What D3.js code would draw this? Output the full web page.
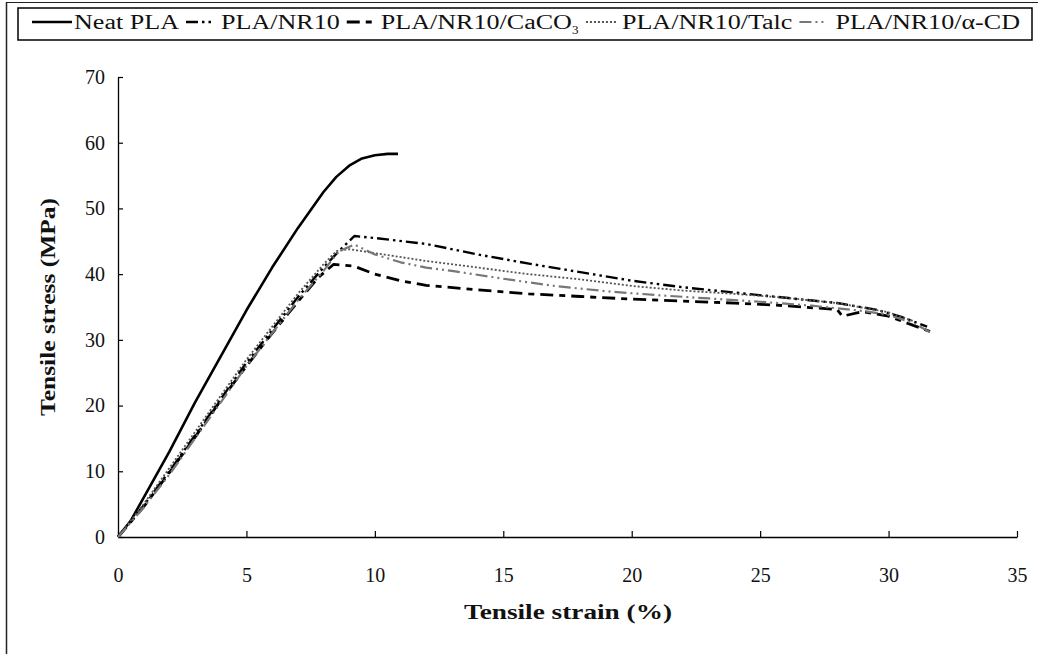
<!DOCTYPE html>
<html>
<head>
<meta charset="utf-8">
<script src="https://cdn.jsdelivr.net/npm/d3@7"></script>
<style>
  html, body { margin: 0; padding: 0; background: #fff; }
  svg { display: block; }
  text { font-family: "Liberation Serif", "Times New Roman", serif; fill: #111; }
</style>
</head>
<body>
<svg id="chart" width="1038" height="654"></svg>
<script>
// ---- data ----
const seriesNames = ["Neat PLA", "PLA/NR10", "PLA/NR10/CaCO3", "PLA/NR10/Talc", "PLA/NR10/α-CD"];

const neatStrain = [0, 0.5, 1, 2, 3, 4, 5, 6, 7, 8, 8.5, 9, 9.5, 10, 10.5, 10.9];
const neatStress = [0, 2.5, 6, 13, 20.5, 27.5, 34.5, 41, 47, 52.5, 54.8, 56.5, 57.6, 58.1, 58.3, 58.3];

const nr10Strain = [0, 1, 2, 3, 4, 5, 6, 7, 8, 8.6, 9.2, 10, 12, 14, 16, 18, 20, 22, 24, 26, 28, 29.5, 30.5, 31.5];
const nr10Stress = [0, 4.8, 10, 15.5, 21, 26.5, 31.5, 36.5, 41, 43.5, 45.8, 45.5, 44.6, 43, 41.6, 40.3, 39, 38, 37.2, 36.4, 35.6, 34.6, 33.5, 32];

const caco3Strain = [0, 1, 2, 3, 4, 5, 6, 7, 7.8, 8.4, 9.2, 10, 11, 12, 14, 16, 18, 20, 22, 24, 26, 28, 28.2, 29, 30, 31.8];
const caco3Stress = [0, 4.6, 9.8, 15.2, 20.8, 26, 31, 35.8, 39.5, 41.5, 41.2, 40, 39, 38.3, 37.6, 37, 36.6, 36.2, 35.9, 35.6, 35.2, 34.6, 33.6, 34.3, 33.6, 31];

const talcStrain = [0, 1, 2, 3, 4, 5, 6, 7, 8, 8.5, 9, 10, 12, 14, 16, 18, 20, 22, 24, 26, 28, 30, 31];
const talcStress = [0, 5, 10.5, 16, 21.5, 27, 32, 37, 41.5, 43.5, 43.8, 43.2, 42, 41, 40, 39.2, 38.2, 37.5, 37, 36.4, 35.6, 34.2, 32.8];

const cdStrain = [0, 1, 2, 3, 4, 5, 6, 7, 8, 8.6, 9.2, 10, 11, 12, 13, 15, 17, 19, 21, 23, 25, 27, 29, 30, 31, 31.6];
const cdStress = [0, 4.5, 9.5, 15, 20.5, 26, 31, 36, 40.5, 43.5, 44.5, 43, 41.8, 41, 40.5, 39.3, 38.2, 37.4, 36.8, 36.3, 35.8, 35.2, 34.4, 33.8, 32.5, 31.2];

const xTicks = [0, 5, 10, 15, 20, 25, 30, 35];
const yTicks = [0, 10, 20, 30, 40, 50, 60, 70];

const xTitle = "Tensile strain (%)";
const yTitle = "Tensile stress (MPa)";

// ---- styles ----
const styles = [
  { color: "#000", width: 2.6, dash: null },
  { color: "#000", width: 2.4, dash: "12,4,2.5,4,2.5,4" },
  { color: "#000", width: 2.8, dash: "13,6,6,6" },
  { color: "#555", width: 1.8, dash: "2,2" },
  { color: "#777", width: 2.2, dash: "12,4,2,4,2,4" }
];

const series = [
  { name: seriesNames[0], xs: neatStrain, ys: neatStress },
  { name: seriesNames[1], xs: nr10Strain, ys: nr10Stress },
  { name: seriesNames[2], xs: caco3Strain, ys: caco3Stress },
  { name: seriesNames[3], xs: talcStrain, ys: talcStress },
  { name: seriesNames[4], xs: cdStrain, ys: cdStress }
];

const svg = d3.select("#chart");

// outer page frame
svg.append("line").attr("x1", 6.5).attr("y1", 2).attr("x2", 6.5).attr("y2", 654).attr("stroke", "#222").attr("stroke-width", 1.5);
svg.append("line").attr("x1", 6).attr("y1", 2.5).attr("x2", 1038).attr("y2", 2.5).attr("stroke", "#222").attr("stroke-width", 1.2);

// plot area
const x = d3.scaleLinear().domain([0, 35]).range([118, 1017]);
const y = d3.scaleLinear().domain([0, 70]).range([537, 77]);

// axes
const xAxis = d3.axisBottom(x).tickValues(xTicks).tickSizeInner(-6).tickSizeOuter(0).tickPadding(31);
const yAxis = d3.axisLeft(y).tickValues(yTicks).tickSizeInner(-5).tickSizeOuter(0).tickPadding(13);

const gx = svg.append("g").attr("transform", "translate(0,537)").call(xAxis);
const gy = svg.append("g").attr("transform", "translate(118,0)").call(yAxis);
[gx, gy].forEach(g => {
  g.select(".domain").attr("stroke", "#000").attr("stroke-width", 1.3);
  g.selectAll(".tick line").attr("stroke", "#000").attr("stroke-width", 1.2);
  g.selectAll(".tick text").style("font-family", "'Liberation Serif', serif").style("font-size", "20px").attr("fill", "#111");
});

// curves
const line = d3.line().x(d => x(d[0])).y(d => y(d[1]));
series.forEach((s, i) => {
  const pts = s.xs.map((v, k) => [v, s.ys[k]]);
  const st = styles[i];
  svg.append("path")
    .datum(pts)
    .attr("d", line)
    .attr("fill", "none")
    .attr("stroke", st.color)
    .attr("stroke-width", st.width)
    .attr("stroke-linejoin", "round")
    .attr("stroke-dasharray", st.dash);
});

// axis titles
svg.append("text").attr("x", 568).attr("y", 619).attr("text-anchor", "middle")
  .attr("textLength", 208).attr("lengthAdjust", "spacingAndGlyphs")
  .style("font-size", "22px").style("font-weight", "bold").text(xTitle);
svg.append("text").attr("transform", "translate(55,307) rotate(-90)").attr("text-anchor", "middle")
  .attr("textLength", 218).attr("lengthAdjust", "spacingAndGlyphs")
  .style("font-size", "22px").style("font-weight", "bold").text(yTitle);

// legend
const lg = svg.append("g");
lg.append("rect").attr("x", 18).attr("y", 8).attr("width", 1014).attr("height", 32)
  .attr("fill", "#fff").attr("stroke", "#000").attr("stroke-width", 1.5);

const legendFont = 20;
const sampleLens = [40, 28, 28, 30, 28];
const gapBefore = [2, 7, 6, 6, 8];   // sample -> text
const gapAfter = 7;                  // text -> next sample
const legendStart = 32, legendEnd = 1020;

// build text nodes and measure natural widths
const texts = seriesNames.map((name, i) => {
  const t = lg.append("text").attr("y", 29).style("font-size", legendFont + "px");
  if (name.endsWith("CaCO3")) {
    t.append("tspan").attr("class", "main").text(name.slice(0, -1));
    t.append("tspan").attr("dy", 5).style("font-size", "13px").text("3");
  } else {
    t.append("tspan").attr("class", "main").text(name);
  }
  return t;
});
const mainW = texts.map(t => t.select("tspan.main").node().getComputedTextLength());
const subW = texts.map((t, i) => seriesNames[i].endsWith("CaCO3") ? 7 : 0);
const fixed = d3.sum(sampleLens) + d3.sum(gapBefore) + gapAfter * 4 + d3.sum(subW);
const scale = (legendEnd - legendStart - fixed) / d3.sum(mainW);

let cx = legendStart;
texts.forEach((t, i) => {
  const st = styles[i];
  lg.append("line").attr("x1", cx).attr("x2", cx + sampleLens[i]).attr("y1", 22).attr("y2", 22)
    .attr("stroke", st.color).attr("stroke-width", st.width).attr("stroke-dasharray", st.dash);
  cx += sampleLens[i] + gapBefore[i];
  const w = mainW[i] * scale;
  t.attr("x", cx);
  t.select("tspan.main").attr("textLength", w).attr("lengthAdjust", "spacingAndGlyphs");
  cx += w + subW[i] + gapAfter;
});
</script>
</body>
</html>
